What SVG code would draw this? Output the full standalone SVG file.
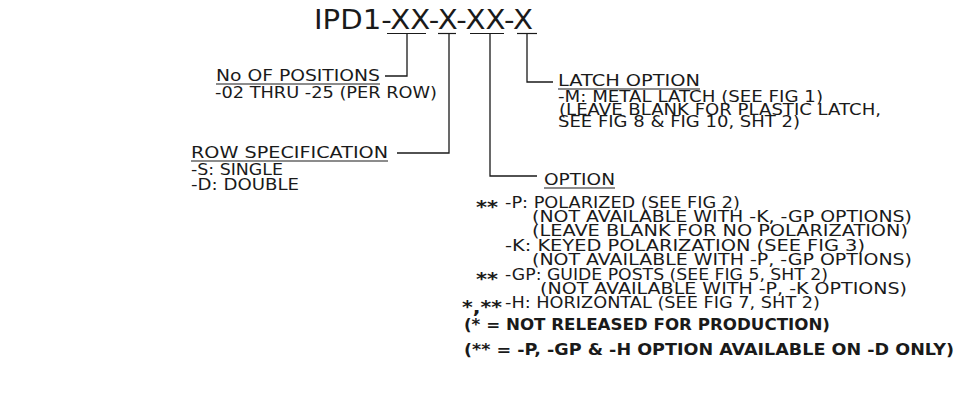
<svg xmlns="http://www.w3.org/2000/svg" width="962" height="409" viewBox="0 0 962 409">
<style>
text{font-family:"DejaVu Sans","Liberation Sans",sans-serif;fill:#1a1a1a;font-size:16px}
.t{font-size:26px}
.b{font-weight:bold}
.s{font-weight:bold;font-size:17px}
.ln{stroke:#1a1a1a;stroke-width:1.3;fill:none}
.ul{stroke:#1a1a1a;stroke-width:1.2}
</style>
<rect width="962" height="409" fill="#fff"/>
<g id="title">
<text class="t" x="314" y="29" textLength="219" lengthAdjust="spacingAndGlyphs">IPD1-XX-X-XX-X</text>
<line class="ul" x1="387" y1="33.5" x2="426" y2="33.5"/>
<line class="ul" x1="438" y1="33.5" x2="456" y2="33.5"/>
<line class="ul" x1="470" y1="33.5" x2="504" y2="33.5"/>
<line class="ul" x1="517" y1="33.5" x2="537" y2="33.5"/>
</g>
<g id="connectors">
<polyline class="ln" points="407,34 407,76 385,76"/>
<polyline class="ln" points="449,34 449,153 397,153"/>
<polyline class="ln" points="490,34 490,176 537,176"/>
<polyline class="ln" points="527,34 527,82 553,82"/>
</g>
<g id="positions">
<text x="216" y="81" textLength="164" lengthAdjust="spacingAndGlyphs">No OF POSITIONS</text>
<line class="ul" x1="216" y1="84" x2="380" y2="84"/>
<text x="215" y="98" textLength="222" lengthAdjust="spacingAndGlyphs">-02 THRU -25 (PER ROW)</text>
</g>
<g id="latch">
<text x="558" y="86" textLength="142" lengthAdjust="spacingAndGlyphs">LATCH OPTION</text>
<line class="ul" x1="558" y1="89" x2="700" y2="89"/>
<text x="558" y="102" textLength="265" lengthAdjust="spacingAndGlyphs">-M: METAL LATCH (SEE FIG 1)</text>
<text x="559" y="115" textLength="322" lengthAdjust="spacingAndGlyphs">(LEAVE BLANK FOR PLASTIC LATCH,</text>
<text x="558" y="127" textLength="242" lengthAdjust="spacingAndGlyphs">SEE FIG 8 &amp; FIG 10, SHT 2)</text>
</g>
<g id="row">
<text x="191" y="158" textLength="197" lengthAdjust="spacingAndGlyphs">ROW SPECIFICATION</text>
<line class="ul" x1="191" y1="161" x2="388" y2="161"/>
<text x="191" y="175" textLength="92" lengthAdjust="spacingAndGlyphs">-S: SINGLE</text>
<text x="191" y="190" textLength="108" lengthAdjust="spacingAndGlyphs">-D: DOUBLE</text>
</g>
<g id="option">
<text x="544" y="185" textLength="71" lengthAdjust="spacingAndGlyphs">OPTION</text>
<line class="ul" x1="544" y1="188" x2="615" y2="188"/>
<text class="s" x="476" y="213" textLength="22" lengthAdjust="spacingAndGlyphs">**</text>
<text x="505" y="208" textLength="235" lengthAdjust="spacingAndGlyphs">-P: POLARIZED (SEE FIG 2)</text>
<text x="532" y="222" textLength="380" lengthAdjust="spacingAndGlyphs">(NOT AVAILABLE WITH -K, -GP OPTIONS)</text>
<text x="532" y="236" textLength="376" lengthAdjust="spacingAndGlyphs">(LEAVE BLANK FOR NO POLARIZATION)</text>
<text x="505" y="251" textLength="360" lengthAdjust="spacingAndGlyphs">-K: KEYED POLARIZATION (SEE FIG 3)</text>
<text x="532" y="265" textLength="380" lengthAdjust="spacingAndGlyphs">(NOT AVAILABLE WITH -P, -GP OPTIONS)</text>
<text class="s" x="476" y="285" textLength="22" lengthAdjust="spacingAndGlyphs">**</text>
<text x="505" y="280" textLength="323" lengthAdjust="spacingAndGlyphs">-GP: GUIDE POSTS (SEE FIG 5, SHT 2)</text>
<text x="540" y="294" textLength="367" lengthAdjust="spacingAndGlyphs">(NOT AVAILABLE WITH -P, -K OPTIONS)</text>
<text class="s" x="462" y="313" textLength="40" lengthAdjust="spacingAndGlyphs">*,**</text>
<text x="505" y="308" textLength="315" lengthAdjust="spacingAndGlyphs">-H: HORIZONTAL (SEE FIG 7, SHT 2)</text>
<text class="b" x="464" y="330" textLength="366" lengthAdjust="spacingAndGlyphs">(* = NOT RELEASED FOR PRODUCTION)</text>
<text class="b" x="464" y="355" textLength="490" lengthAdjust="spacingAndGlyphs">(** = -P, -GP &amp; -H OPTION AVAILABLE ON -D ONLY)</text>
</g>
</svg>
